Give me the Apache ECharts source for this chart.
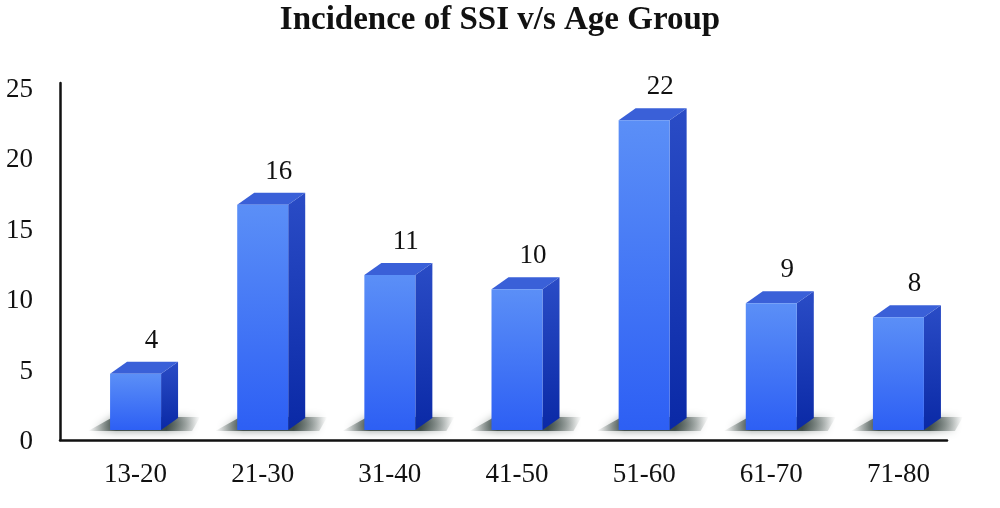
<!DOCTYPE html>
<html>
<head>
<meta charset="utf-8">
<script src="https://cdn.jsdelivr.net/npm/echarts@6/dist/echarts.min.js"></script>
<style>html,body{margin:0;padding:0;background:#fff}#c{width:1000px;height:508px}</style>
</head>
<body>
<div id="c"></div>
<script>
var titleText = 'Incidence of SSI v/s Age Group';
var categories = ['13-20', '21-30', '31-40', '41-50', '51-60', '61-70', '71-80'];
var values = [4, 16, 11, 10, 22, 9, 8];
var yMin = 0, yMax = 25, yStep = 5;

var FONT = '"Liberation Serif", "DejaVu Serif", serif';
var chart = echarts.init(document.getElementById('c'), null, {renderer: 'canvas'});

function renderBar(params, api) {
  var i = api.value(0), v = api.value(1);
  var top = api.coord([i, v]);
  var base = api.coord([i, 0]);
  var lift = 12, w = 51, dx = 17, dy = 12;
  var x0 = top[0] - w / 2, x1 = x0 + w;
  var yT = top[1] - lift, yB = base[1] - lift;
  var children = [];
  // floor shadow
  children.push({
    type: 'polygon',
    shape: {points: [[x0 - 22, yB + 1], [x1 + dx + 14, yB + 1], [x1 + dx + 22, yB - dy - 1], [x0 - 14 + dx, yB - dy - 1]]},
    style: {
      fill: new echarts.graphic.LinearGradient(0, 0, 1, 0, [
        {offset: 0, color: 'rgba(60,75,70,0)'},
        {offset: 0.25, color: 'rgba(45,60,55,0.85)'},
        {offset: 0.7, color: 'rgba(45,60,55,0.85)'},
        {offset: 1, color: 'rgba(60,75,70,0)'}
      ]),
      shadowBlur: 8, shadowColor: 'rgba(45,60,55,0.6)'
    }
  });
  // side face
  children.push({
    type: 'polygon',
    shape: {points: [[x1, yT], [x1 + dx, yT - dy], [x1 + dx, yB - dy], [x1, yB]]},
    style: {fill: new echarts.graphic.LinearGradient(0, 0, 0, 1, [
      {offset: 0, color: '#2a4cc6'}, {offset: 1, color: '#0a29a6'}
    ])}
  });
  // top face
  children.push({
    type: 'polygon',
    shape: {points: [[x0, yT], [x0 + dx, yT - dy], [x1 + dx, yT - dy], [x1, yT]]},
    style: {fill: '#3a60d8'}
  });
  // front face
  children.push({
    type: 'rect',
    shape: {x: x0, y: yT, width: w, height: yB - yT},
    style: {fill: new echarts.graphic.LinearGradient(0, 0, 0, 1, [
      {offset: 0, color: '#5b8ff7'}, {offset: 1, color: '#2d5ff4'}
    ])}
  });
  // value label
  children.push({
    type: 'text',
    x: top[0] + 16, y: yT - 33,
    style: {text: String(v), font: '27px ' + FONT, fill: '#111', align: 'center', verticalAlign: 'middle'}
  });
  return {type: 'group', children: children};
}

var option = {
  backgroundColor: '#fff',
  animation: false,
  title: {
    text: titleText, left: 'center', top: -1,
    textStyle: {fontFamily: FONT, fontWeight: 'bold', fontSize: 33, color: '#111'}
  },
  grid: [
    {left: 72, right: 38, top: 90, bottom: 66},
    {left: 60, right: 53, top: 83, bottom: 68}
  ],
  xAxis: [
    {type: 'category', gridIndex: 0, data: categories,
     axisLine: {show: false}, axisTick: {show: false}, splitLine: {show: false},
     axisLabel: {margin: 19, fontFamily: FONT, fontSize: 27, color: '#111'}},
    {type: 'value', gridIndex: 1, min: 0, max: 1,
     axisLine: {show: true, lineStyle: {color: '#111', width: 2.5}},
     axisTick: {show: false}, axisLabel: {show: false}, splitLine: {show: false}}
  ],
  yAxis: [
    {type: 'value', gridIndex: 0, min: yMin, max: yMax, interval: yStep,
     axisLine: {show: false}, axisTick: {show: false}, splitLine: {show: false},
     axisLabel: {margin: 39, fontFamily: FONT, fontSize: 27, color: '#111'}},
    {type: 'value', gridIndex: 1, min: 0, max: 1,
     axisLine: {show: true, lineStyle: {color: '#111', width: 2.5}},
     axisTick: {show: false}, axisLabel: {show: false}, splitLine: {show: false}}
  ],
  series: [{
    type: 'custom',
    xAxisIndex: 0, yAxisIndex: 0,
    renderItem: renderBar,
    data: values.map(function (v, i) { return [i, v]; })
  }]
};
chart.setOption(option);
</script>
</body>
</html>
